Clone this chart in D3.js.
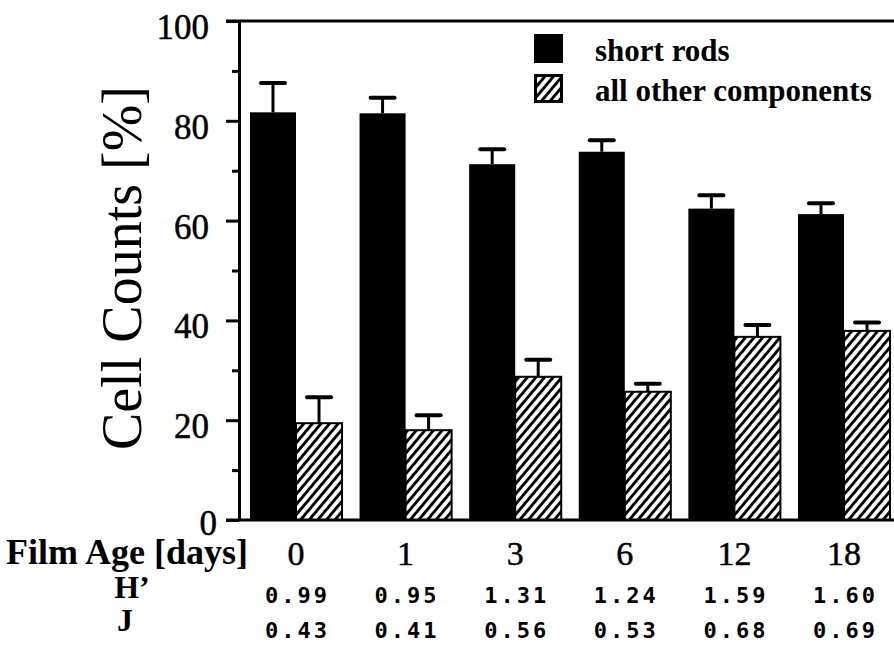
<!DOCTYPE html>
<html>
<head>
<meta charset="utf-8">
<script src="https://cdn.jsdelivr.net/npm/d3@7"></script>
<style>
  html, body { margin: 0; padding: 0; background: #fff; }
  svg { display: block; }
  .serif { font-family: "Liberation Serif", "Times New Roman", serif; fill: #000; }
  .mono { font-family: "DejaVu Sans Mono", monospace; font-weight: bold; fill: #000; }
</style>
</head>
<body>
<svg id="chart" width="894" height="648"></svg>
<script>
// Film age groups and cell-count percentages per morphotype
const days = ["0", "1", "3", "6", "12", "18"];
const shortRods = [81.7, 81.5, 71.3, 73.8, 62.4, 61.3];
const shortRodsErr = [5.9, 3.1, 3.0, 2.3, 2.7, 2.2];
const otherComponents = [19.4, 18.0, 28.7, 25.7, 36.7, 37.9];
const otherComponentsErr = [5.2, 3.0, 3.4, 1.6, 2.4, 1.7];
// Shannon diversity (H') and evenness (J) for each film age
const diversityH = ["0.99", "0.95", "1.31", "1.24", "1.59", "1.60"];
const evennessJ = ["0.43", "0.41", "0.56", "0.53", "0.68", "0.69"];
const seriesNames = ["short rods", "all other components"];
const yTicks = [0, 20, 40, 60, 80, 100];
const yMinorTicks = [10, 30, 50, 70, 90];

const svg = d3.select("#chart");
const W = 894;

// Scales
const axisX = 239;
const x = d3.scaleBand().domain(days).range([axisX, axisX + 109.6 * 6.04])
  .paddingInner(0.16).paddingOuter(0.1);
const xs = d3.scaleBand().domain(seriesNames).range([0, x.bandwidth()]).padding(0);
const y = d3.scaleLinear().domain([0, 100]).range([520, 21]);

// Diagonal hatch pattern
const defs = svg.append("defs");
defs.append("pattern")
  .attr("id", "hatch")
  .attr("patternUnits", "userSpaceOnUse")
  .attr("width", 6.6).attr("height", 10)
  .attr("patternTransform", "rotate(40)")
  .append("line")
  .attr("x1", 3.3).attr("y1", -2).attr("x2", 3.3).attr("y2", 12)
  .attr("stroke", "#000").attr("stroke-width", 2.9);

const rows = days.map((d, i) => ({
  day: d,
  values: [
    { key: seriesNames[0], v: shortRods[i], e: shortRodsErr[i] },
    { key: seriesNames[1], v: otherComponents[i], e: otherComponentsErr[i] }
  ]
}));

// Bars
const groups = svg.append("g").selectAll("g").data(rows).join("g")
  .attr("transform", d => `translate(${x(d.day)},0)`);

groups.selectAll("rect").data(d => d.values).join("rect")
  .attr("x", d => xs(d.key))
  .attr("y", d => y(d.v))
  .attr("width", xs.bandwidth())
  .attr("height", d => y(0) - y(d.v))
  .attr("fill", (d, i) => i === 0 ? "#000" : "url(#hatch)")
  .attr("stroke", "#000")
  .attr("stroke-width", (d, i) => i === 0 ? 0 : 2);

// Error bars (upper whisker with cap)
const eb = groups.selectAll("g.err").data(d => d.values).join("g").attr("class", "err");
eb.append("line")
  .attr("x1", d => xs(d.key) + xs.bandwidth() / 2)
  .attr("x2", d => xs(d.key) + xs.bandwidth() / 2)
  .attr("y1", d => y(d.v))
  .attr("y2", d => y(d.v + d.e))
  .attr("stroke", "#000").attr("stroke-width", 3);
eb.append("line")
  .attr("x1", d => xs(d.key) + xs.bandwidth() / 2 - 12)
  .attr("x2", d => xs(d.key) + xs.bandwidth() / 2 + 12)
  .attr("y1", d => y(d.v + d.e))
  .attr("y2", d => y(d.v + d.e))
  .attr("stroke", "#000").attr("stroke-width", 4).attr("stroke-linecap", "round");

// Y axis: major ticks with labels, minor ticks without
const yAxis = d3.axisLeft(y).tickValues(yTicks).tickSize(13).tickPadding(17).tickSizeOuter(0);
const gy = svg.append("g").attr("transform", `translate(${axisX},0)`).call(yAxis);
gy.select(".domain").attr("stroke", "#000").attr("stroke-width", 3);
gy.selectAll(".tick line").attr("stroke", "#000").attr("stroke-width", 3);
gy.selectAll(".tick text")
  .attr("class", "serif")
  .style("font-size", "35px")
  .attr("font-family", null)
  .attr("dy", d => d === 0 ? "0.42em" : "0.5em")
  .attr("dx", d => d === 0 ? 8 : 0)
  .attr("stroke", "#000").attr("stroke-width", 0.5);

const yMinor = d3.axisLeft(y).tickValues(yMinorTicks).tickSize(7).tickFormat("").tickSizeOuter(0);
const gym = svg.append("g").attr("transform", `translate(${axisX},0)`).call(yMinor);
gym.select(".domain").remove();
gym.selectAll(".tick line").attr("stroke", "#000").attr("stroke-width", 3);

// Top frame line and baseline
svg.append("line").attr("x1", axisX - 13).attr("x2", W).attr("y1", y(100)).attr("y2", y(100))
  .attr("stroke", "#000").attr("stroke-width", 3);
svg.append("line").attr("x1", axisX - 13).attr("x2", W).attr("y1", y(0)).attr("y2", y(0))
  .attr("stroke", "#000").attr("stroke-width", 3);

// Y axis title
svg.append("text").attr("class", "serif")
  .attr("transform", "translate(141,268) rotate(-90)")
  .attr("text-anchor", "middle")
  .style("font-size", "56px")
  .text("Cell Counts [%]");

// X labels: film age, H' and J rows
svg.append("text").attr("class", "serif")
  .attr("x", 248).attr("y", 564).attr("text-anchor", "end")
  .style("font-size", "36px").style("font-weight", "bold")
  .text("Film Age [days]");
svg.append("text").attr("class", "serif")
  .attr("x", 132).attr("y", 598).attr("text-anchor", "middle")
  .style("font-size", "32px").style("font-weight", "bold")
  .text("H\u2019");
svg.append("text").attr("class", "serif")
  .attr("x", 125).attr("y", 631).attr("text-anchor", "middle")
  .style("font-size", "32px").style("font-weight", "bold")
  .text("J");

const cx = d => x(d) + x.bandwidth() / 2;
svg.append("g").selectAll("text").data(days).join("text")
  .attr("class", "serif")
  .attr("x", d => cx(d)).attr("y", 565).attr("text-anchor", "middle")
  .style("font-size", "34px")
  .attr("stroke", "#000").attr("stroke-width", 0.5)
  .text(d => d);
svg.append("g").selectAll("text").data(diversityH).join("text")
  .attr("class", "mono")
  .attr("x", (d, i) => cx(days[i]) + 1.5).attr("y", 603).attr("text-anchor", "middle")
  .style("font-size", "22px").style("letter-spacing", "3px")
  .text(d => d);
svg.append("g").selectAll("text").data(evennessJ).join("text")
  .attr("class", "mono")
  .attr("x", (d, i) => cx(days[i]) + 1.5).attr("y", 638).attr("text-anchor", "middle")
  .style("font-size", "22px").style("letter-spacing", "3px")
  .text(d => d);

// Legend
const legend = svg.append("g").attr("transform", "translate(534,34)");
const li = legend.selectAll("g").data(seriesNames).join("g")
  .attr("transform", (d, i) => `translate(0,${i * 40})`);
li.append("rect")
  .attr("x", 1.5).attr("y", 1.5).attr("width", 26).attr("height", 26)
  .attr("fill", (d, i) => i === 0 ? "#000" : "url(#hatch)")
  .attr("stroke", "#000").attr("stroke-width", 3);
li.append("text").attr("class", "serif")
  .attr("x", 61).attr("y", 27)
  .style("font-size", "31px").style("font-weight", "bold")
  .text(d => d);
</script>
</body>
</html>
